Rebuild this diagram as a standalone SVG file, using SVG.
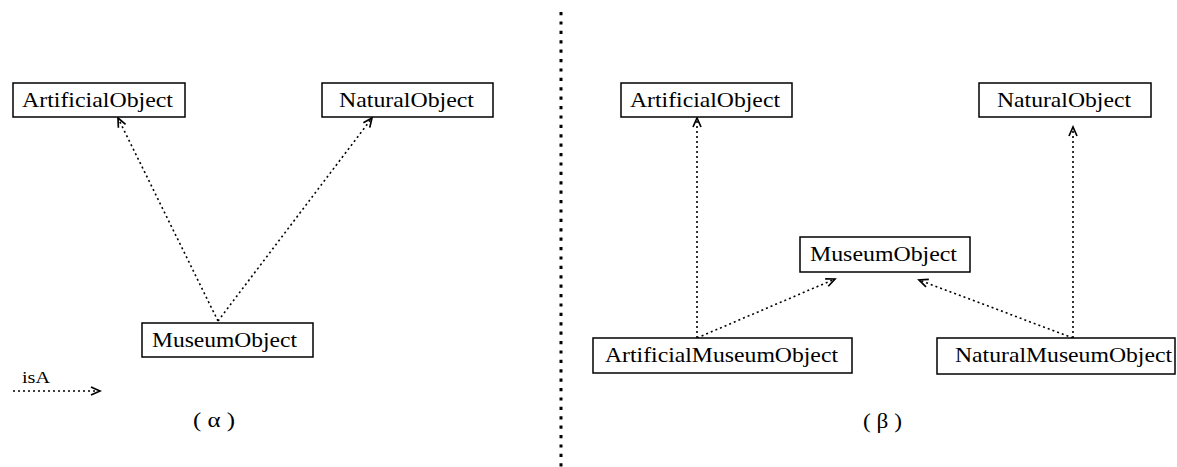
<svg xmlns="http://www.w3.org/2000/svg" width="1177" height="467" viewBox="0 0 1177 467">
<style>
.box{fill:#fff;stroke:#000;stroke-width:1.5}
.lbl{font-family:"Liberation Serif","Times New Roman",serif;font-size:21px;fill:#000}
.small{font-family:"Liberation Serif","Times New Roman",serif;font-size:16px;fill:#000}
.isa{fill:none;stroke:#000;stroke-width:1.6;stroke-dasharray:2 3}
.div{fill:none;stroke:#000;stroke-width:3;stroke-dasharray:3.2 6.2}
</style>
<defs>
<marker id="arr" markerUnits="userSpaceOnUse" viewBox="-10 -6 12 12" refX="0" refY="0" markerWidth="12" markerHeight="12" orient="auto">
<path d="M-9,-4 L0,0 L-9,4" fill="none" stroke="#000" stroke-width="1.7"/>
</marker>
</defs>
<rect width="1177" height="467" fill="#fff"/>
<g id="connectors">
<line class="isa" x1="218" y1="321" x2="118" y2="118" marker-end="url(#arr)"/>
<line class="isa" x1="218" y1="321" x2="372" y2="118" marker-end="url(#arr)"/>
<line class="isa" x1="13" y1="391" x2="100" y2="391" marker-end="url(#arr)"/>
<line class="isa" x1="697" y1="338" x2="697" y2="118" marker-end="url(#arr)"/>
<line class="isa" x1="697" y1="338" x2="835" y2="279" marker-end="url(#arr)"/>
<line class="isa" x1="1073" y1="338" x2="1073" y2="127" marker-end="url(#arr)"/>
<line class="isa" x1="1073" y1="338" x2="919" y2="280" marker-end="url(#arr)"/>
<line class="div" x1="561" y1="12" x2="561" y2="467"/>
</g>
<g id="a-artificial">
<rect class="box" x="13" y="83" width="172" height="34"/>
<text class="lbl" x="22" y="107" textLength="151" lengthAdjust="spacingAndGlyphs">ArtificialObject</text>
</g>
<g id="a-natural">
<rect class="box" x="322" y="83" width="171" height="34"/>
<text class="lbl" x="339" y="107" textLength="135" lengthAdjust="spacingAndGlyphs">NaturalObject</text>
</g>
<g id="a-museum">
<rect class="box" x="142" y="323" width="171" height="34"/>
<text class="lbl" x="152" y="347" textLength="145" lengthAdjust="spacingAndGlyphs">MuseumObject</text>
</g>
<g id="legend">
<text class="small" x="22" y="383" textLength="28" lengthAdjust="spacingAndGlyphs">isA</text>
</g>
<text class="lbl" x="193" y="427" textLength="42" lengthAdjust="spacingAndGlyphs">( α )</text>
<g id="b-artificial">
<rect class="box" x="621" y="83" width="171" height="34"/>
<text class="lbl" x="630" y="107" textLength="150" lengthAdjust="spacingAndGlyphs">ArtificialObject</text>
</g>
<g id="b-natural">
<rect class="box" x="979" y="83" width="172" height="34"/>
<text class="lbl" x="997" y="107" textLength="134" lengthAdjust="spacingAndGlyphs">NaturalObject</text>
</g>
<g id="b-museum">
<rect class="box" x="800" y="237" width="170" height="35"/>
<text class="lbl" x="810" y="261" textLength="147" lengthAdjust="spacingAndGlyphs">MuseumObject</text>
</g>
<g id="b-artmuseum">
<rect class="box" x="593" y="338" width="259" height="35"/>
<text class="lbl" x="605" y="362" textLength="233" lengthAdjust="spacingAndGlyphs">ArtificialMuseumObject</text>
</g>
<g id="b-natmuseum">
<rect class="box" x="937" y="338" width="238" height="36"/>
<text class="lbl" x="955" y="362" textLength="217" lengthAdjust="spacingAndGlyphs">NaturalMuseumObject</text>
</g>
<text class="lbl" x="863" y="428" textLength="39" lengthAdjust="spacingAndGlyphs">( β )</text>
</svg>
